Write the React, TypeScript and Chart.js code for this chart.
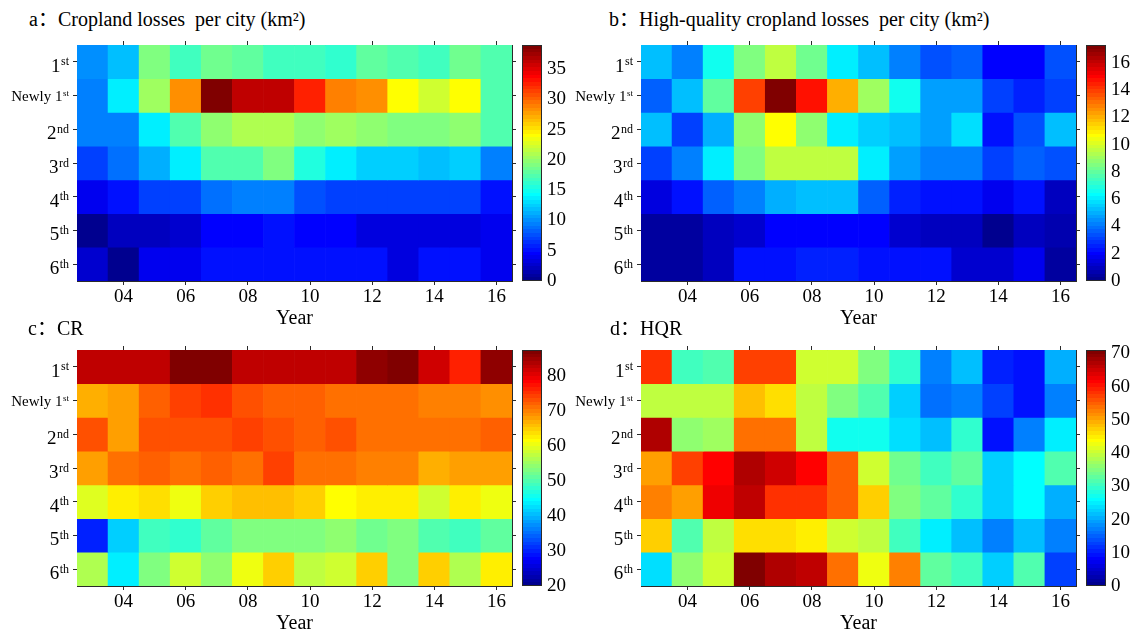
import React, { useEffect, useRef } from 'react';
import { Chart, registerables } from 'chart.js';

Chart.register(...registerables);

// ---------------- data ----------------
const years = ['03', '04', '05', '06', '07', '08', '09', '10', '11', '12', '13', '14', '15', '16'];
const shownYearIdx = [1, 3, 5, 7, 9, 11, 13];
const rowMain = ['1', 'Newly 1', '2', '3', '4', '5', '6'];
const rowSup = ['st', 'st', 'nd', 'rd', 'th', 'th', 'th'];

// a: Cropland losses per city (km2)
const cropLoss = [
  [10, 12, 19, 16.5, 18.5, 18, 16.5, 16.5, 16, 18, 17.5, 17, 18.5, 17.5],
  [9.7, 14, 20.4, 28.2, 38.9, 36, 36, 32.6, 29.2, 28.2, 24.3, 22.4, 23.8, 17.5],
  [9.7, 9.7, 13.6, 17.5, 19.5, 20.9, 20.9, 20, 20.4, 19.5, 19, 19, 19.5, 17.5],
  [7.3, 8.8, 11.2, 14, 17.5, 17.5, 19, 15.6, 14, 12.6, 12.2, 11.8, 12.2, 9.7],
  [3.9, 4.9, 6.8, 7.3, 8.8, 9.2, 9.2, 7.8, 7.3, 6.8, 6.8, 6.8, 6.8, 5.3],
  [0.5, 1.9, 1.9, 2.9, 4.4, 4.4, 5.2, 4.6, 4.4, 3.4, 3.4, 3.4, 3.4, 3.9],
  [2.9, 0, 3.9, 3.9, 4.9, 4.9, 5.3, 5.3, 5.3, 5.3, 3.4, 4.9, 4.9, 3.9],
];

// b: High-quality cropland losses per city (km2)
const hqCropLoss = [
  [5.2, 4.1, 6.5, 8.4, 9.7, 8.2, 6.2, 5.2, 4.1, 3.5, 3.6, 1.9, 1.9, 3.5],
  [3.6, 5.4, 8.0, 13.8, 17.3, 14.7, 11.9, 9.1, 6.7, 4.8, 4.6, 3.2, 2.6, 3.2],
  [5.4, 3.0, 5.0, 8.65, 10.6, 8.65, 6.1, 5.6, 5.2, 4.6, 5.8, 2.2, 3.5, 5.2],
  [3.2, 4.3, 6.2, 8.4, 9.7, 9.7, 9.5, 6.2, 4.6, 4.1, 4.1, 3.2, 3.6, 3.5],
  [1.5, 2.4, 3.6, 4.3, 5.0, 5.4, 5.2, 3.6, 2.6, 2.4, 2.2, 1.7, 2.2, 0.9],
  [0.4, 0.4, 0.9, 1.3, 1.9, 1.9, 1.9, 1.9, 1.3, 0.9, 0.9, 0.2, 0.9, 0.6],
  [0.4, 0.4, 0.9, 2.4, 2.4, 2.6, 2.6, 2.4, 2.4, 2.2, 1.1, 1.1, 1.7, 0.4],
];

// c: CR
const crValues = [
  [82.8, 82.8, 82.8, 86.5, 86.5, 82.3, 82.3, 82.3, 82.3, 86, 87.5, 81.7, 76.5, 85.6],
  [66.9, 67.7, 71.9, 74.4, 75.3, 73.6, 72.3, 72.3, 71.6, 71.6, 71.6, 70.3, 70.3, 69.4],
  [72.9, 67.7, 72.9, 72.9, 73.6, 74.4, 72.9, 72.3, 73.6, 71.6, 71.6, 71.1, 71.6, 72.3],
  [67.7, 71.6, 72.3, 71.1, 71.9, 71.1, 74.4, 71.6, 71.1, 70.3, 70.3, 66.9, 67.7, 67.7],
  [59.4, 62.7, 63.6, 61, 65.2, 66.1, 66.1, 65.2, 61.9, 62.7, 62.7, 58.5, 62.7, 61],
  [30.5, 41.8, 48.5, 47.6, 51, 52.7, 53.5, 53.5, 53.8, 51.8, 53.5, 50.2, 48.5, 51],
  [56.9, 43.5, 52.7, 58.5, 54.3, 60.2, 64.4, 57.7, 58.5, 65.2, 52.7, 64.4, 56.9, 62.7],
];

// d: HQR
const hqrValues = [
  [58.6, 30.2, 32, 56.8, 56.8, 40.8, 40, 34.6, 29.3, 16.9, 21.3, 10.7, 9.8, 20.4],
  [39, 39, 39, 48.8, 46.2, 39, 34.6, 31.1, 22.2, 16, 16.9, 12.4, 8.9, 16.9],
  [66.6, 35.5, 37.3, 54.1, 54.1, 39, 27.5, 27.5, 24, 21.3, 29.3, 9.8, 16.9, 24.9],
  [50.6, 56.8, 61.2, 67.5, 64.8, 61.2, 55, 40, 33.7, 30.2, 32.8, 22.2, 25.7, 32],
  [52.4, 50.6, 63, 65.7, 58.6, 58.6, 55, 47, 34.6, 32.8, 29.3, 22.2, 25.7, 20.4],
  [47, 32, 39, 46.2, 46.2, 44.4, 40, 39, 30.2, 24.9, 21.3, 16.9, 21.3, 16.9],
  [24, 35.5, 40.8, 71, 67.5, 65.7, 54.1, 42.6, 52.4, 32.8, 30.2, 22.2, 31.1, 12.4],
];

const rangeA = [0, 39];
const rangeB = [0, 17.3];
const rangeC = [20, 87.5];
const rangeD = [0, 71];
const cbTicksA = [0, 5, 10, 15, 20, 25, 30, 35];
const cbTicksB = [0, 2, 4, 6, 8, 10, 12, 14, 16];
const cbTicksC = [20, 30, 40, 50, 60, 70, 80];
const cbTicksD = [0, 10, 20, 30, 40, 50, 60, 70];

// ---------------- styling ----------------
const FONT = "'Liberation Serif', 'Times New Roman', serif";
const AXIS = '#2a2a2a';

// MATLAB jet(64)
function buildJet(m: number): number[][] {
  const n = Math.ceil(m / 4);
  const u: number[] = [];
  for (let i = 1; i <= n; i++) u.push(i / n);
  for (let i = 1; i < n; i++) u.push(1);
  for (let i = n; i >= 1; i--) u.push(i / n);
  const gStart = Math.ceil(n / 2) - (m % 4 === 1 ? 1 : 0);
  const cmap = Array.from({ length: m }, () => [0, 0, 0]);
  for (let k = 0; k < u.length; k++) {
    const g = gStart + k + 1;
    const r = g + n;
    const b = g - n;
    if (g >= 1 && g <= m) cmap[g - 1][1] = u[k];
    if (r >= 1 && r <= m) cmap[r - 1][0] = u[k];
    if (b >= 1 && b <= m) cmap[b - 1][2] = u[k];
  }
  return cmap;
}
const JET = buildJet(64);
const rgb = (c: number[]) => `rgb(${Math.round(c[0] * 255)},${Math.round(c[1] * 255)},${Math.round(c[2] * 255)})`;
function colorFor(v: number, range: number[]) {
  let idx = Math.floor(((v - range[0]) / (range[1] - range[0])) * 64);
  idx = Math.max(0, Math.min(63, idx));
  return rgb(JET[idx]);
}

const rowLabelPlugin = {
  id: 'rowLabels',
  afterDraw(chart: any) {
    const sc = chart.scales.y;
    const ctx = chart.ctx;
    const right = chart.chartArea.left - 8;
    ctx.save();
    ctx.fillStyle = '#000';
    ctx.textAlign = 'left';
    ctx.textBaseline = 'alphabetic';
    rowMain.forEach((m, i) => {
      const yc = sc.getPixelForValue(i + 0.5);
      const small = m.length > 2;
      const mainSize = small ? 15 : 19;
      const supSize = small ? 9 : 12;
      ctx.font = `${mainSize}px ${FONT}`;
      const mw = ctx.measureText(m).width;
      ctx.font = `${supSize}px ${FONT}`;
      const sw = ctx.measureText(rowSup[i]).width;
      const x0 = right - mw - sw - 0.5;
      ctx.font = `${mainSize}px ${FONT}`;
      ctx.fillText(m, x0, yc + (small ? 5.5 : 10));
      ctx.font = `${supSize}px ${FONT}`;
      ctx.fillText(rowSup[i], x0 + mw + 0.5, yc + (small ? 0.5 : 3.5));
    });
    ctx.restore();
  },
};

const gridOpts = { offset: false, drawOnChartArea: false, drawTicks: true, tickLength: 4, color: AXIS, lineWidth: 1 };
const borderOpts = { display: true, color: AXIS, width: 1 };
const zeroPad = (s: any) => {
  s.paddingLeft = 0;
  s.paddingRight = 0;
  s.paddingTop = 0;
  s.paddingBottom = 0;
};

function heatConfig(values: number[][], range: number[]): any {
  return {
    type: 'bar',
    data: {
      labels: years,
      datasets: values.map((row, r) => ({
        data: row.map(() => [r, r + 1]),
        backgroundColor: row.map((v) => colorFor(v, range)),
        borderWidth: 0,
        barPercentage: 1,
        categoryPercentage: 1,
        grouped: false,
        xAxisID: 'x',
        yAxisID: 'y',
      })),
    },
    options: {
      responsive: false,
      animation: false,
      devicePixelRatio: 1,
      events: [],
      layout: { padding: 0 },
      plugins: { legend: { display: false }, tooltip: { enabled: false }, title: { display: false } },
      scales: {
        x: {
          type: 'category',
          position: 'bottom',
          offset: true,
          z: 1,
          grid: gridOpts,
          border: borderOpts,
          ticks: { autoSkip: false, maxRotation: 0, padding: 1, color: '#000', font: { family: FONT, size: 19 } },
          afterBuildTicks: (s: any) => {
            s.ticks = shownYearIdx.map((v) => ({ value: v }));
          },
          title: { display: true, text: 'Year', color: '#000', font: { family: FONT, size: 20 }, padding: { top: 0, bottom: 4 } },
          afterFit: (s: any) => {
            s.height = 54;
            zeroPad(s);
          },
        },
        xTop: {
          type: 'category',
          position: 'top',
          offset: true,
          z: 1,
          grid: gridOpts,
          border: borderOpts,
          ticks: { display: false },
          afterBuildTicks: (s: any) => {
            s.ticks = shownYearIdx.map((v) => ({ value: v }));
          },
          afterFit: (s: any) => {
            s.height = 10;
            zeroPad(s);
          },
        },
        y: {
          type: 'linear',
          position: 'left',
          min: 0,
          max: 7,
          reverse: true,
          z: 1,
          grid: gridOpts,
          border: borderOpts,
          ticks: { display: false },
          afterBuildTicks: (s: any) => {
            s.ticks = rowMain.map((_, i) => ({ value: i + 0.5 }));
          },
          afterFit: (s: any) => {
            s.width = 77;
            zeroPad(s);
          },
        },
        yRight: {
          type: 'linear',
          position: 'right',
          min: 0,
          max: 7,
          reverse: true,
          z: 1,
          grid: gridOpts,
          border: borderOpts,
          ticks: { display: false },
          afterBuildTicks: (s: any) => {
            s.ticks = rowMain.map((_, i) => ({ value: i + 0.5 }));
          },
          afterFit: (s: any) => {
            s.width = 8;
            zeroPad(s);
          },
        },
      },
    },
    plugins: [rowLabelPlugin],
  };
}

function colorbarConfig(range: number[], ticks: number[]): any {
  return {
    type: 'bar',
    data: {
      labels: ['cb'],
      datasets: [
        {
          data: [[range[0], range[1]]],
          backgroundColor: (ctx: any) => {
            const chart = ctx.chart;
            const ca = chart.chartArea;
            if (!ca) return 'rgba(0,0,0,0)';
            const g = chart.ctx.createLinearGradient(0, ca.bottom, 0, ca.top);
            for (let i = 0; i < 64; i++) {
              const c = rgb(JET[i]);
              g.addColorStop(i / 64, c);
              g.addColorStop((i + 1) / 64, c);
            }
            return g;
          },
          borderColor: AXIS,
          borderWidth: 1,
          borderSkipped: false,
          barPercentage: 1,
          categoryPercentage: 1,
          inflateAmount: 0,
        },
      ],
    },
    options: {
      responsive: false,
      animation: false,
      devicePixelRatio: 1,
      events: [],
      layout: { padding: { left: 10, top: 10, bottom: 14, right: 0 } },
      plugins: { legend: { display: false }, tooltip: { enabled: false } },
      scales: {
        x: { display: false, offset: true },
        y: {
          type: 'linear',
          position: 'right',
          min: range[0],
          max: range[1],
          grid: { display: false, drawTicks: false },
          border: { display: false },
          ticks: { padding: 5, color: '#000', font: { family: FONT, size: 19 } },
          afterBuildTicks: (s: any) => {
            s.ticks = ticks.map((v) => ({ value: v }));
          },
          afterFit: (s: any) => {
            s.width = 40;
            zeroPad(s);
          },
        },
      },
    },
  };
}

type PanelDef = {
  title: string;
  values: number[][];
  range: number[];
  cbTicks: number[];
  x: number;
  y: number;
  titleX: number;
  titleY: number;
};

const panels: PanelDef[] = [
  { title: 'a：Cropland losses  per city (km²)', values: cropLoss, range: rangeA, cbTicks: cbTicksA, x: 0, y: 0, titleX: 29, titleY: 7 },
  { title: 'b：High-quality cropland losses  per city (km²)', values: hqCropLoss, range: rangeB, cbTicks: cbTicksB, x: 564, y: 0, titleX: 609, titleY: 7 },
  { title: 'c：CR', values: crValues, range: rangeC, cbTicks: cbTicksC, x: 0, y: 305, titleX: 28, titleY: 316 },
  { title: 'd：HQR', values: hqrValues, range: rangeD, cbTicks: cbTicksD, x: 564, y: 305, titleX: 610, titleY: 316 },
];

function Panel({ p }: { p: PanelDef }) {
  const heatRef = useRef<HTMLCanvasElement>(null);
  const cbRef = useRef<HTMLCanvasElement>(null);
  useEffect(() => {
    const c1 = new Chart(heatRef.current as HTMLCanvasElement, heatConfig(p.values, p.range));
    const c2 = new Chart(cbRef.current as HTMLCanvasElement, colorbarConfig(p.range, p.cbTicks));
    return () => {
      c1.destroy();
      c2.destroy();
    };
  }, []);
  return (
    <>
      <div
        style={{
          position: 'absolute',
          left: p.titleX,
          top: p.titleY,
          fontFamily: "'Liberation Serif', 'Noto Sans CJK SC', serif",
          fontSize: 20,
          lineHeight: '24px',
          whiteSpace: 'pre',
          color: '#000',
        }}
      >
        {p.title}
      </div>
      <canvas
        ref={heatRef}
        width={520}
        height={300}
        style={{ position: 'absolute', left: p.x, top: p.y + 35, width: 520, height: 300 }}
      />
      <canvas
        ref={cbRef}
        width={70}
        height={260}
        style={{ position: 'absolute', left: p.x + 512, top: p.y + 35, width: 70, height: 260 }}
      />
    </>
  );
}

export default function App() {
  return (
    <div
      style={{
        position: 'absolute',
        left: 0,
        top: 0,
        width: 1133,
        height: 632,
        overflow: 'hidden',
        background: '#fff',
      }}
    >
      {panels.map((p, i) => (
        <Panel key={i} p={p} />
      ))}
    </div>
  );
}
